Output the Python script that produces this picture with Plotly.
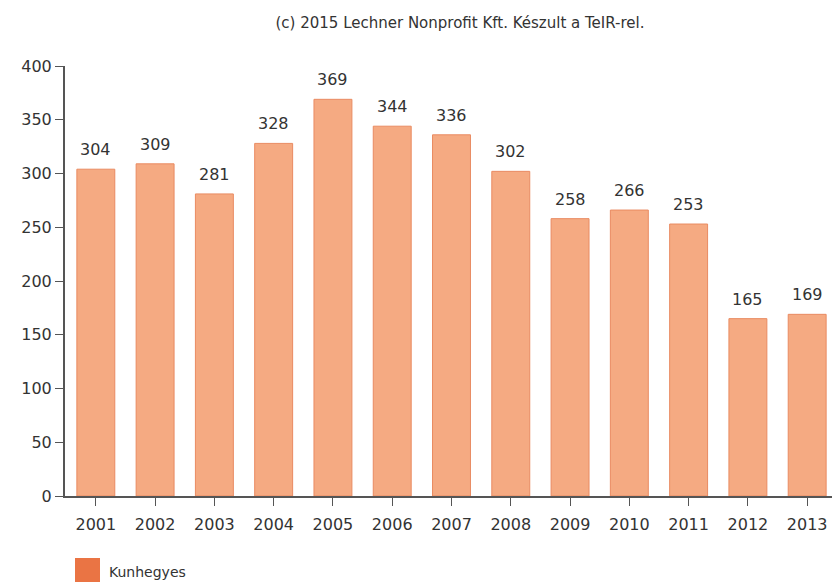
import plotly.graph_objects as go

years = ['2001', '2002', '2003', '2004', '2005', '2006', '2007',
         '2008', '2009', '2010', '2011', '2012', '2013']
values = [304, 309, 281, 328, 369, 344, 336, 302, 258, 266, 253, 165, 169]
series_name = 'Kunhegyes'

# page body has an 8px margin, so positions below are offset by -8px
fig = go.Figure()

fig.add_trace(go.Bar(
    x=years, y=values, name=series_name,
    marker=dict(color='#F5AA82', line=dict(color='#E98B62', width=1)),
    showlegend=False,
))

# value labels a bit higher above the bars than plotly's 'outside' text
# (category index, since '2001' strings get read as numbers by annotations)
for i, v in enumerate(values):
    fig.add_annotation(x=i, y=v, text=str(v), showarrow=False,
                       yanchor='bottom', yshift=8,
                       font=dict(size=16, color='#333333'))

# legend drawn by hand: larger swatch than plotly's own legend
fig.add_shape(type='rect', xref='paper', yref='paper',
              xsizemode='pixel', ysizemode='pixel', xanchor=0, yanchor=0,
              x0=10, x1=35, y0=-62, y1=-90,
              fillcolor='#EA7444', line=dict(width=0))
fig.add_annotation(text=series_name, xref='paper', yref='paper',
                   x=0, y=0, xanchor='left', yanchor='middle',
                   xshift=42, yshift=-76, showarrow=False,
                   font=dict(size=14, color='#333333'))

fig.update_layout(
    width=840, height=582,
    margin=dict(l=57, r=10, t=58, b=94),
    plot_bgcolor='white', paper_bgcolor='white',
    bargap=0.36,
    font=dict(family='DejaVu Sans', color='#333333'),
    title=dict(text='(c) 2015 Lechner Nonprofit Kft. Készult a TeIR-rel.',
               x=452 / 840, xanchor='center', y=1 - 15 / 582, yanchor='middle',
               font=dict(size=15, color='#333333')),
    showlegend=False,
    xaxis=dict(
        type='category', range=[-0.52, 12.52],
        showline=True, linecolor='#555555', linewidth=2,
        ticks='outside', ticklen=8, tickcolor='#555555',
        tickfont=dict(size=16, color='#333333'), ticklabelstandoff=5,
        showgrid=False, automargin=False,
    ),
    yaxis=dict(
        range=[0, 400], tickvals=[0, 50, 100, 150, 200, 250, 300, 350, 400],
        showline=True, linecolor='#555555', linewidth=2,
        ticks='outside', ticklen=8, tickcolor='#555555',
        tickfont=dict(size=16, color='#333333'),
        showgrid=False, zeroline=False, automargin=False,
    ),
)

fig.write_html('out.html')
